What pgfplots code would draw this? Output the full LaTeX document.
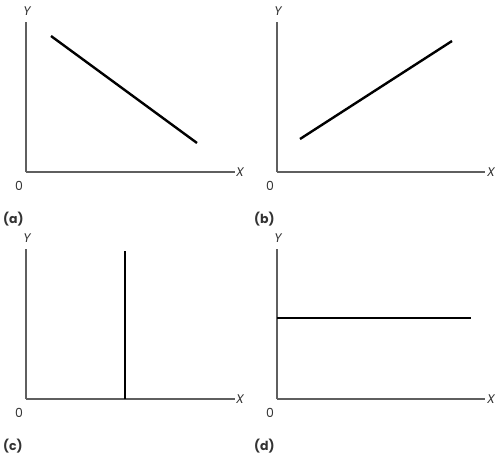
\documentclass[border=0pt]{standalone}
\usepackage{fontspec}
\setmainfont{Poppins}
\usepackage{pgfplots}
\pgfplotsset{compat=1.18}
\definecolor{axisgray}{RGB}{95,95,95}

\pgfplotsset{
    panel/.style={
        scale only axis,
        width=209pt, height=150pt,
        xmin=0, xmax=209, ymin=0, ymax=150,
        axis x line=bottom, axis y line=left,
        axis line style={-, axisgray, line width=1.1pt},
        xtick=\empty, ytick=\empty,
        clip=false, anchor=origin,
    },
    curve/.style={black, line width=2.4pt, no markers},
}
\tikzset{lbl/.style={font=\fontsize{12.5}{14}\selectfont, text=black!80, inner sep=0pt}}

% #1 = panel letter
\newcommand{\panellabels}[1]{%
    \node[lbl, font=\fontsize{12.5}{14}\selectfont\itshape] at (axis cs:1,161) {Y};
    \node[lbl, font=\fontsize{12.5}{14}\selectfont\itshape] at (axis cs:214,0) {X};
    \node[lbl] at (axis cs:-7,-14) {0};
    \node[lbl, anchor=west, font=\fontsize{12.5}{14}\selectfont\bfseries] at (axis cs:-23,-47) {(#1)};
}

\begin{document}
\begin{tikzpicture}
\path[use as bounding box] (0,0) rectangle (502pt,456pt);

% (a) negative slope
\begin{axis}[panel, at={(26pt,284pt)}]
\addplot[curve] coordinates {(25,136) (171,29)};
\panellabels{a}
\end{axis}

% (b) positive slope
\begin{axis}[panel, at={(277pt,284pt)}, xmax=208, width=208pt]
\addplot[curve] coordinates {(23,33) (175,131)};
\panellabels{b}
\end{axis}

% (c) vertical
\begin{axis}[panel, at={(26pt,57pt)}]
\addplot[curve, line width=2.8pt] coordinates {(99,0) (99,148)};
\panellabels{c}
\end{axis}

% (d) horizontal
\begin{axis}[panel, at={(277pt,57pt)}, xmax=208, width=208pt]
\addplot[curve] coordinates {(0,81) (194,81)};
\panellabels{d}
\end{axis}
\end{tikzpicture}
\end{document}
